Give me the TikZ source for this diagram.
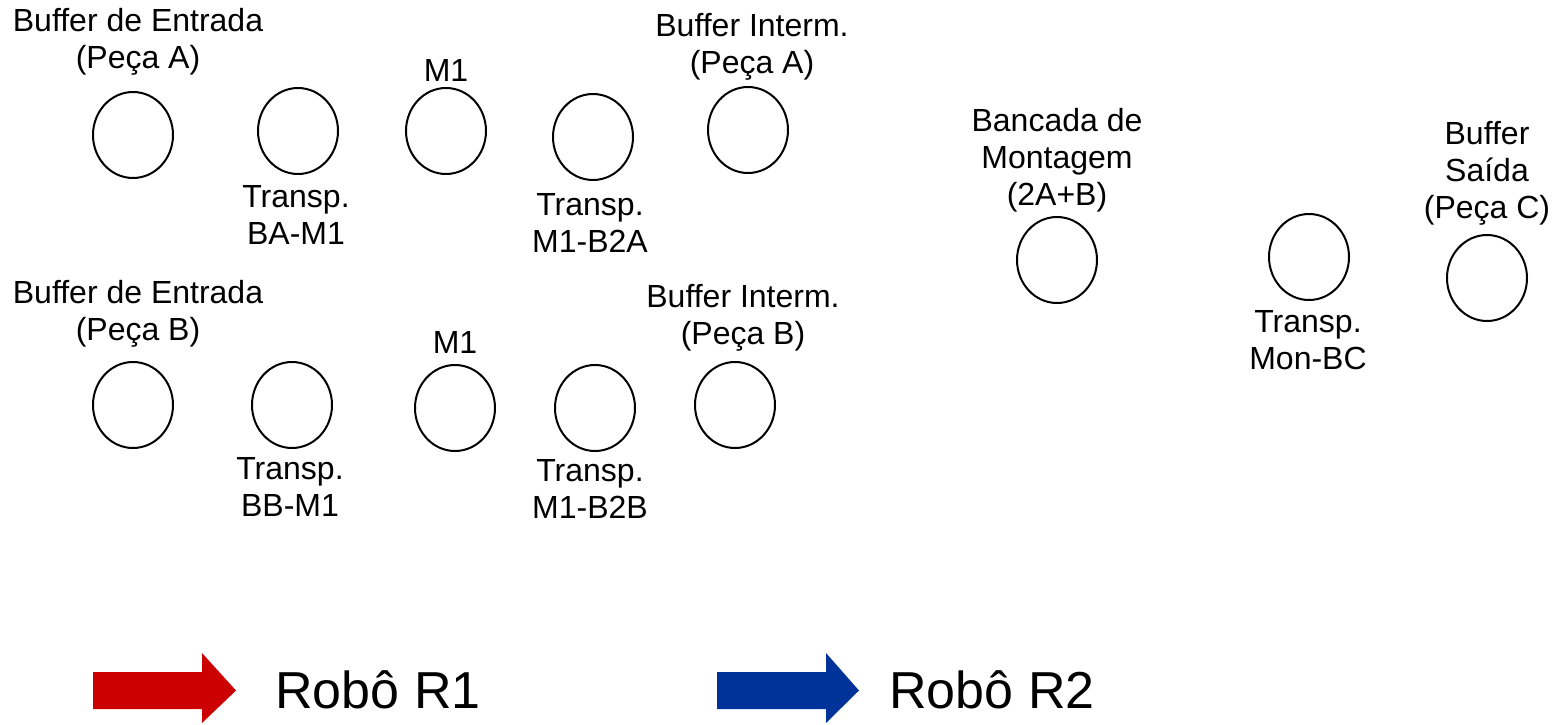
\documentclass[tikz,border=0pt]{standalone}
\usepackage{fontspec}
\setmainfont{Liberation Sans}
\usetikzlibrary{shapes.geometric}
\definecolor{robotred}{HTML}{CC0000}
\definecolor{robotblue}{HTML}{003399}

\begin{document}
\begin{tikzpicture}[
  x=0.5pt,
  y=-0.5pt,
  line join=miter,
  station/.style={draw=black,line width=1pt,ellipse,minimum width=40pt,minimum height=43pt,inner sep=0pt},
  tag/.style={align=center,inner sep=0pt,font=\fontsize{16}{18.5}\selectfont},
  legendtag/.style={anchor=west,inner sep=0pt,font=\fontsize{26}{30}\selectfont}
]
  % Match the artwork frame.
  \useasboundingbox (0,0) rectangle (1564,724);

  % Upper line: part A.
  \node[station] (bufA)   at (133,135) {};
  \node[station] (trBAM1) at (298,131) {};
  \node[station] (m1A)    at (446,131) {};
  \node[station] (trM1A)  at (593,137) {};
  \node[station] (intA)   at (748,130) {};

  \node[tag] (bufAtxt)   at (138,42)  {Buffer de Entrada\\(Peça A)};
  \node[tag] (m1Atxt)    at (446,70)  {M1};
  \node[tag] (intAtxt)   at (752,47)  {Buffer Interm.\\(Peça A)};
  \node[tag] (trBAM1txt) at (296,215) {Transp.\\BA-M1};
  \node[tag] (trM1Atxt)  at (590,223) {Transp.\\M1-B2A};

  % Lower line: part B.
  \node[station] (bufB)   at (133,405) {};
  \node[station] (trBBM1) at (292,405) {};
  \node[station] (m1B)    at (455,408) {};
  \node[station] (trM1B)  at (595,408) {};
  \node[station] (intB)   at (735,405) {};

  \node[tag] (bufBtxt)   at (138,314) {Buffer de Entrada\\(Peça B)};
  \node[tag] (m1Btxt)    at (455,342) {M1};
  \node[tag] (intBtxt)   at (743,318) {Buffer Interm.\\(Peça B)};
  \node[tag] (trBBM1txt) at (290,487) {Transp.\\BB-M1};
  \node[tag] (trM1Btxt)  at (590,489) {Transp.\\M1-B2B};

  % Assembly and output.
  \node[station] (mont)  at (1057,260) {};
  \node[station] (trMon) at (1309,257) {};
  \node[station] (bufC)  at (1487,278) {};

  \node[tag] (monttxt)  at (1057,160) {Bancada de\\Montagem\\(2A+B)};
  \node[tag] (bufCtxt)  at (1487,173) {Buffer\\Saída\\(Peça C)};
  \node[tag] (trMontxt) at (1308,340) {Transp.\\Mon-BC};

  % Legend: robots.
  \fill[robotred] (93,672) -- (202,672) -- (202,653) -- (236,690.5)
    -- (202,723) -- (202,709) -- (93,709) -- cycle;
  \node[legendtag] (r1txt) at (275,690) {Robô R1};

  \fill[robotblue] (717,672) -- (826,672) -- (826,653) -- (859,690.5)
    -- (826,723) -- (826,709) -- (717,709) -- cycle;
  \node[legendtag] (r2txt) at (889,690) {Robô R2};
\end{tikzpicture}
\end{document}
